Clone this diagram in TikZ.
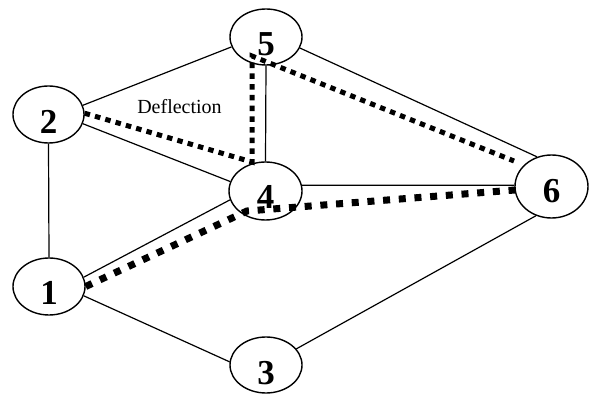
\documentclass[tikz,border=0pt]{standalone}
\usepackage{fontspec}
\setmainfont{Liberation Serif}
\usetikzlibrary{shapes.geometric}
\begin{document}
\begin{tikzpicture}[x=1pt,y=-1pt,
  vertex/.style={draw, ellipse, line width=1.4pt, minimum width=72pt, minimum height=57pt, inner sep=0pt},
  num/.style={font=\fontsize{35}{35}\selectfont\bfseries, inner sep=0pt},
  edge/.style={line width=1.2pt},
  thinpath/.style={line width=5pt, dash pattern=on 5.5pt off 5.225pt},
  thickpath/.style={line width=7pt, dash pattern=on 7pt off 8.73pt}]
\useasboundingbox (0,0) rectangle (589,395);

% vertices
\node[vertex, minimum width=72pt, minimum height=56pt] (n5) at (266,37) {};
\node[vertex, minimum width=71pt, minimum height=57pt] (n2) at (48.5,114.5) {};
\node[vertex, minimum width=73pt, minimum height=58pt] (n4) at (265.5,191) {};
\node[vertex, minimum width=73pt, minimum height=63pt] (n6) at (551.5,186.5) {};
\node[vertex, minimum width=72pt, minimum height=57pt] (n1) at (49,286.5) {};
\node[vertex, minimum width=72pt, minimum height=56pt] (n3) at (266,365) {};

% vertex numbers, set a little below centre
\node[num] (l5) at ([yshift=-7pt]n5.center) {5};
\node[num] (l2) at ([yshift=-7.5pt]n2.center) {2};
\node[num] (l4) at ([yshift=-6pt]n4.center) {4};
\node[num] (l6) at ([yshift=-4.5pt]n6.center) {6};
\node[num] (l1) at ([yshift=-6pt]n1.center) {1};
\node[num] (l3) at ([yshift=-8.5pt]n3.center) {3};

\node[font=\fontsize{20}{20}\selectfont, anchor=base, inner sep=0pt] (defl) at (179.5,113.5) {Deflection};

% edges
\draw[edge] (n2.15) -- (n5.196);
\draw[edge] (n2.-15) -- (n4.165);
\draw[edge] (n2.270) -- (n1.90);
\draw[edge] (n5.270) -- (n4.90);
\draw[edge] (n5.-18) -- (n6.116);
\draw[edge] (n4.9.5) -- (n6.178);
\draw[edge] (n1.15) -- (n4.194);
\draw[edge] (n1.-15) -- (n3.175);
\draw[edge] (n3.28.5) -- (n6.242.5);

% deflected shapes
\coordinate (a1) at (252,162);
\coordinate (a2) at (252,56);
\coordinate (a3) at (514,161);
\draw[thinpath] (n2.2) -- (a1) -- (a2) -- (a3);

\coordinate (b1) at (247,211);
\coordinate (b2) at (515,190);
\draw[thickpath] (n1.0) -- (b1) -- (b2);
\end{tikzpicture}
\end{document}
